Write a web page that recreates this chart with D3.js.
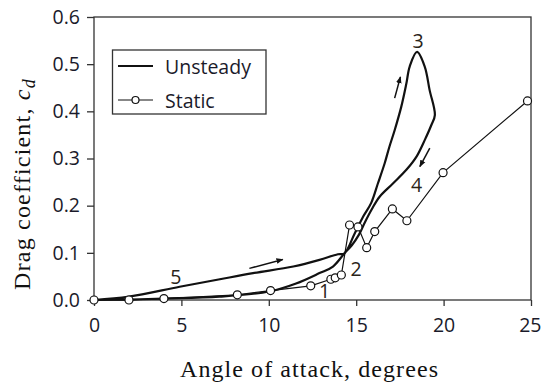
<!DOCTYPE html>
<html><head><meta charset="utf-8">
<script src="https://cdn.jsdelivr.net/npm/d3@7/dist/d3.min.js"></script>
<style>body{margin:0;background:#fff}</style>
</head><body><svg id="c" width="541" height="385"></svg>
<script>
// ---- data ----
const xTicks = [0, 5, 10, 15, 20, 25];
const yTicks = [0, 0.1, 0.2, 0.3, 0.4, 0.5, 0.6];
const staticAlpha = [0, 2, 4, 8.2, 10.1, 12.4, 13.55, 13.8, 14.15, 14.62, 15.1, 15.6, 16.06, 17.07, 17.9, 19.97, 24.8];
const staticCd    = [0, 0, 0.003, 0.011, 0.02, 0.03, 0.044, 0.047, 0.053, 0.159, 0.155, 0.111, 0.145, 0.193, 0.168, 0.27, 0.422];
const unsteadyAlpha = [0, 2, 4.9, 7.2, 9.1, 11.4, 12.9, 13.95, 14.33, 14.9, 15.4, 15.86, 16.24, 16.63, 16.9, 17.2, 17.58, 17.87, 18.06, 18.48,
                       18.92, 19.2, 19.5, 19.3, 18.92, 18.45, 17.87, 17.1, 16.34, 15.9, 15.5, 15.15, 14.75, 14.33, 13.67, 12.9, 11.56, 10.03, 7.17, 4, 2, 0];
const unsteadyCd    = [0, 0.007, 0.028, 0.044, 0.057, 0.071, 0.085, 0.097, 0.099, 0.14, 0.177, 0.206, 0.247, 0.29, 0.325, 0.36, 0.41, 0.459, 0.495, 0.526,
                       0.495, 0.445, 0.392, 0.371, 0.339, 0.304, 0.276, 0.247, 0.219, 0.193, 0.165, 0.138, 0.116, 0.099, 0.071, 0.057, 0.035, 0.018, 0.007, 0.003, 0.001, 0];
const labelText  = ["1", "2", "3", "4", "5"];
const labelAlpha = [13.19, 15.0, 18.54, 18.45, 4.68];
const labelCd    = [0.021, 0.067, 0.551, 0.244, 0.049];
// arrows: [x1, y1, x2, y2] in data units
const arrowX1 = [8.89, 17.2, 19.21];
const arrowY1 = [0.067, 0.428, 0.322];
const arrowX2 = [10.8, 17.53, 18.64];
const arrowY2 = [0.086, 0.473, 0.283];
const legendNames = ["Unsteady", "Static"];

// ---- layout ----
const L = 94, R = 531, T = 17, B = 300;
const x = d3.scaleLinear().domain([0, 25]).range([L, R]);
const y = d3.scaleLinear().domain([0, 0.6]).range([B, T]);
const svg = d3.select("#c");

svg.append("defs").append("marker").attr("id", "ah").attr("viewBox", "0 0 10 10")
  .attr("refX", 9).attr("refY", 5).attr("markerWidth", 7).attr("markerHeight", 7)
  .attr("markerUnits", "userSpaceOnUse").attr("orient", "auto")
  .append("path").attr("d", "M0,1 L10,5 L0,9 Z").attr("fill", "#111");

// frame
svg.append("rect").attr("x", L).attr("y", T).attr("width", R - L).attr("height", B - T)
  .attr("fill", "none").attr("stroke", "#333").attr("stroke-width", 1.3);

const tickFont = "'Open Sans', sans-serif";
const xa = svg.append("g").attr("transform", `translate(0,${B})`)
  .call(d3.axisBottom(x).tickValues(xTicks).tickSize(6).tickPadding(12).tickFormat(d3.format("d")));
const ya = svg.append("g").attr("transform", `translate(${L},0)`)
  .call(d3.axisLeft(y).tickValues(yTicks).tickSize(7).tickPadding(7).tickFormat(d3.format(".1f")));
[xa, ya].forEach(a => {
  a.select(".domain").remove();
  a.selectAll(".tick line").attr("stroke", "#333").attr("stroke-width", 1.3);
  a.selectAll("text").attr("font-family", tickFont).attr("font-size", 19.5).attr("fill", "#1a1a2a");
});
// keep the last x label inside the picture
xa.selectAll(".tick").filter(d => d === 25).select("text").attr("text-anchor", "end").attr("dx", 10);

// static series
const sData = staticAlpha.map((a, i) => [a, staticCd[i]]);
svg.append("path").datum(sData)
  .attr("d", d3.line().x(d => x(d[0])).y(d => y(d[1])))
  .attr("fill", "none").attr("stroke", "#111").attr("stroke-width", 1.2);

// unsteady series
const uData = unsteadyAlpha.map((a, i) => [a, unsteadyCd[i]]);
svg.append("path").datum(uData)
  .attr("d", d3.line().x(d => x(d[0])).y(d => y(d[1])).curve(d3.curveCatmullRom.alpha(0.5)))
  .attr("fill", "none").attr("stroke", "#111").attr("stroke-width", 2.2).attr("stroke-linejoin", "round");

svg.append("g").selectAll("circle").data(sData).join("circle")
  .attr("cx", d => x(d[0])).attr("cy", d => y(d[1])).attr("r", 4)
  .attr("fill", "#fff").attr("stroke", "#111").attr("stroke-width", 1.2);

// arrows
svg.append("g").selectAll("line").data(arrowX1.map((v, i) => i)).join("line")
  .attr("x1", i => x(arrowX1[i])).attr("y1", i => y(arrowY1[i]))
  .attr("x2", i => x(arrowX2[i])).attr("y2", i => y(arrowY2[i]))
  .attr("stroke", "#111").attr("stroke-width", 1.5).attr("marker-end", "url(#ah)");

// numeric labels
svg.append("g").selectAll("text").data(labelText).join("text")
  .attr("x", (d, i) => x(labelAlpha[i])).attr("y", (d, i) => y(labelCd[i]))
  .attr("text-anchor", "middle").attr("dominant-baseline", "central")
  .attr("font-family", tickFont).attr("font-size", 19.5).attr("fill", "#2a2418").text(d => d);

// legend
const lg = svg.append("g");
lg.append("rect").attr("x", 112.5).attr("y", 50).attr("width", 153.5).attr("height", 64)
  .attr("fill", "#fff").attr("stroke", "#333").attr("stroke-width", 1.3);
legendNames.forEach((n, i) => {
  const yy = 66 + i * 34;
  lg.append("line").attr("x1", 118).attr("x2", 153).attr("y1", yy).attr("y2", yy)
    .attr("stroke", "#111").attr("stroke-width", i === 0 ? 2.2 : 1.2);
  if (i === 1) lg.append("circle").attr("cx", 135.5).attr("cy", yy).attr("r", 3.5)
    .attr("fill", "#fff").attr("stroke", "#111").attr("stroke-width", 1.2);
  lg.append("text").attr("x", 165).attr("y", yy).attr("dominant-baseline", "central")
    .attr("font-family", tickFont).attr("font-size", 19.5).attr("fill", "#1a1a2a").text(n);
});

// axis titles
const serif = "'Liberation Serif', 'Times New Roman', serif";
svg.append("text").attr("x", 309).attr("y", 377).attr("text-anchor", "middle")
  .attr("font-family", serif).attr("font-size", 24).attr("fill", "#111")
  .attr("textLength", 258).attr("lengthAdjust", "spacing")
  .text("Angle of attack, degrees");
const yt = svg.append("text").attr("transform", "translate(30,184) rotate(-90)").attr("text-anchor", "middle")
  .attr("font-family", serif).attr("font-size", 24).attr("fill", "#111").attr("letter-spacing", 1.2);
yt.append("tspan").text("Drag coefficient, ");
yt.append("tspan").attr("font-style", "italic").text("c");
yt.append("tspan").attr("font-style", "italic").attr("font-size", 18).attr("dy", 5).text("d");
</script></body></html>
